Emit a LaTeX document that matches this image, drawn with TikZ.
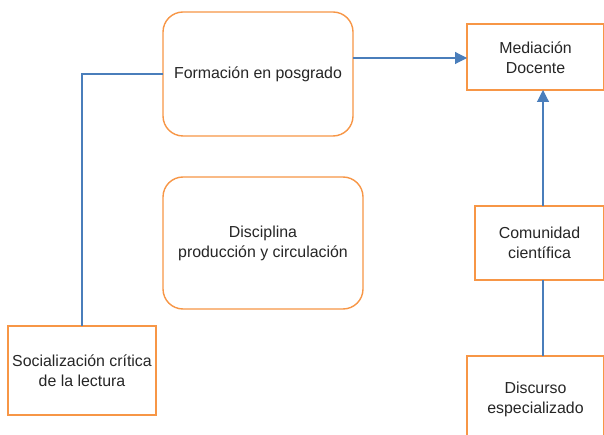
\documentclass[tikz,border=0pt]{standalone}
\usepackage{fontspec}
\setmainfont{Liberation Sans}
\usetikzlibrary{arrows.meta}
\definecolor{boxorange}{HTML}{F79646}
\definecolor{lineblue}{HTML}{4A7EBB}
\begin{document}
\begin{tikzpicture}[x=1pt,y=-1pt,
  txt/.style={font=\fontsize{15.9}{20}\selectfont, align=center, text=black!85},
  roundbox/.style={draw=boxorange, line width=1.4pt, rounded corners=20pt, fill=white},
  sqbox/.style={draw=boxorange, line width=1.4pt, fill=white},
  conn/.style={draw=lineblue, line width=1.1pt},
  arr/.style={conn, -{Triangle[length=12pt,width=12pt]}}]
\useasboundingbox (0,0) rectangle (604,435);
\begin{scope}
\clip (0,0) rectangle (604,435);
% boxes
\draw[roundbox] (163,12) rectangle (353,136);
\node[txt] (form) at (258,74) {Formación en posgrado};
\coordinate (formW) at (163,74);
\coordinate (formE) at (353,58);
\draw[roundbox] (163,177) rectangle (363,309);
\node[txt] (disc) at (263,243) {Disciplina\\producción y circulación};
\draw[sqbox] (467,24) rectangle (604,90);
\node[txt] (med) at (535.5,58) {Mediación\\Docente};
\coordinate (medW) at (467,58);
\coordinate (medS) at (543,90);
\draw[sqbox] (475,206) rectangle (604,280);
\node[txt] (com) at (539.5,243) {Comunidad\\científica};
\coordinate (comN) at (543,206);
\coordinate (comS) at (543,280);
\draw[sqbox] (8,326) rectangle (156,415);
\node[txt] (soc) at (82,370.5) {Socialización crítica\\de la lectura};
\coordinate (socN) at (82,326);
\draw[sqbox] (467,356) rectangle (604,442);
\node[txt] (dis) at (535.5,399) {Discurso\\especializado};
\coordinate (disN) at (543,356);
% connectors
\draw[conn] (formW) -| (socN);
\draw[arr] (formE) -- (medW);
\draw[arr] (comN) -- (medS);
\draw[conn] (disN) -- (comS);
\end{scope}
\end{tikzpicture}
\end{document}
